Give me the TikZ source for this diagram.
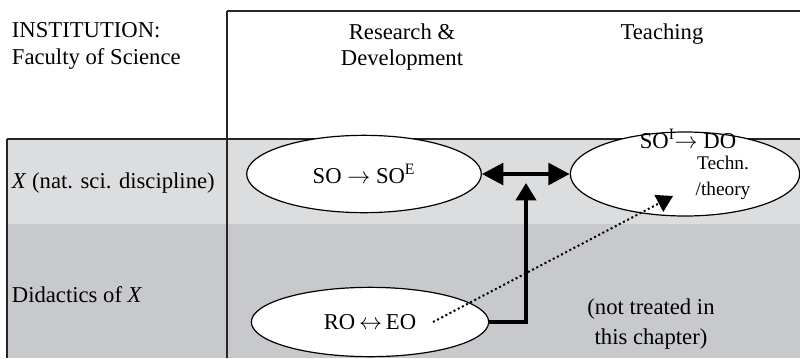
\documentclass[tikz,border=0pt]{standalone}
\usepackage{fontspec}
\setmainfont{Liberation Serif}
\usetikzlibrary{arrows.meta, positioning, shapes.geometric}
\definecolor{lightband}{RGB}{220,221,223}
\definecolor{darkband}{RGB}{200,201,204}

\begin{document}
\begin{tikzpicture}[
    x=0.75pt, y=-0.75pt,
    every node/.style={font=\fontsize{17}{20}\selectfont, inner sep=2pt},
    oval/.style={draw, ellipse, fill=white, line width=0.9pt, inner sep=0pt},
    rule/.style={line width=0.9pt, black!85},
    dblarrow/.style={line width=3.4pt,
                     {Triangle[length=16pt, width=16pt]}-{Triangle[length=16pt, width=16pt]}},
    uparrow/.style={line width=3pt, -{Triangle[length=13pt, width=15pt]}},
    dotarrow/.style={line width=1.5pt, dotted, -{Triangle[length=12pt, width=14pt]}}
  ]
  \useasboundingbox (0,0) rectangle (800,358);

  % bands and table lines
  \fill[lightband] (7,139) rectangle (800,224);
  \fill[darkband] (7,224) rectangle (800,358);
  \draw[rule] (227,11) -- (800,11);
  \draw[rule] (7,139) -- (800,139);
  \draw[rule] (227,11) -- (227,358);
  \draw[rule] (7,139) -- (7,358);

  % headers
  \node[anchor=west, align=left] (inst) at (9,46) {INSTITUTION:\\Faculty of Science};
  \node[align=center] (rd) at (402,47) {Research \&\\Development};
  \node (teach) at (662,34) {Teaching};
  \node[anchor=west] (xrow) at (9,183) {\textit{X} (nat. sci. discipline)};
  \node[anchor=west] (drow) at (9,295) {Didactics of \textit{X}};

  % ellipses
  \node[oval, minimum width=176pt, minimum height=58pt] (so) at (364,174)
    {SO $\rightarrow$ SO\textsuperscript{E}};
  \node[oval, minimum width=172pt, minimum height=63pt] (soi) at (685,174) {};
  \node[oval, minimum width=178pt, minimum height=52pt] (ro) at (370,322)
    {RO\,$\leftrightarrow$\,EO};
  \node[inner sep=0pt] (soitxt) at (688,139) {SO\textsuperscript{I}$\rightarrow$ DO};
  \node[align=center, inner sep=0pt, font=\fontsize{14.5}{19}\selectfont] (techn)
    at (723,178) {Techn.\\/theory};
  \node[align=center, font=\fontsize{17}{22}\selectfont] (nottreated) at (651,324)
    {(not treated in\\this chapter)};

  \coordinate (vtip) at (526,183);
  \coordinate (dotstart) at (433,322);
  \coordinate (dotend) at (673,196);

  \draw[dblarrow] (so.east) -- (soi.west);
  \draw[uparrow] (ro.east) -| (vtip);
  \draw[dotarrow] (dotstart) -- (dotend);
\end{tikzpicture}
\end{document}
